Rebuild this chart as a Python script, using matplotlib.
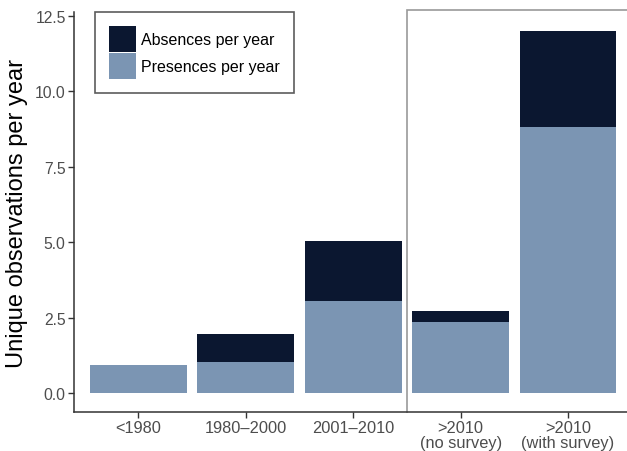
import matplotlib
matplotlib.use("Agg")
import matplotlib.pyplot as plt
from matplotlib.patches import Patch

plt.rcParams['font.family'] = ['Liberation Sans', 'DejaVu Sans']

categories = ["<1980", "1980\u20132000", "2001\u20132010", ">2010\n(no survey)", ">2010\n(with survey)"]
presences = [0.94, 1.03, 3.07, 2.35, 8.8]
totals = [0.94, 1.95, 5.05, 2.73, 12.0]
absences = [t - p for t, p in zip(totals, presences)]
yticks = [0.0, 2.5, 5.0, 7.5, 10.0, 12.5]

dark = "#0b1730"
light = "#7b95b3"

W, H = 627, 452
fig = plt.figure(figsize=(W / 100, H / 100), dpi=100)
ax = fig.add_axes([74 / W, (H - 413) / H, (W - 74) / W, (413 - 13) / H])

x = list(range(1, len(categories) + 1))
ax.bar(x, presences, width=0.9, color=light, linewidth=0)
ax.bar(x, absences, bottom=presences, width=0.9, color=dark, linewidth=0)

ax.set_xlim(0.4, 5.55)
ax.set_ylim(-0.62, 12.62)
ax.set_xticks(x)
ax.set_xticklabels(categories, fontsize=11.8, color="#4d4d4d", linespacing=0.95)
ax.set_yticks(yticks)
ax.set_yticklabels([f"{v:.1f}" for v in yticks], fontsize=11.3, color="#4d4d4d")
ax.tick_params(axis="both", length=4, width=1, color="#333333", pad=2)

for s in ["top", "right"]:
    ax.spines[s].set_visible(False)
for s in ["left", "bottom"]:
    ax.spines[s].set_color("#333333")
    ax.spines[s].set_linewidth(1.1)

# frame around the post-2010 panel
ax.plot([3.5, 3.5, 5.6], [-0.62, 12.7, 12.7], color="#999999", lw=1.2,
        clip_on=False, solid_joinstyle="miter")

ax.set_ylabel("Unique observations per year", fontsize=17, color="#000000", labelpad=5)

handles = [Patch(facecolor=dark, edgecolor="none", label="Absences per year"),
           Patch(facecolor=light, edgecolor="none", label="Presences per year")]
leg = ax.legend(handles=handles, loc="upper left", bbox_to_anchor=(21 / (W - 74), 1.0),
                fontsize=11.5, frameon=True, fancybox=False, edgecolor="#333333",
                handlelength=1.65, handleheight=2.1, handletextpad=0.35,
                labelspacing=0.05, borderpad=0.9, borderaxespad=0.0)
leg.get_frame().set_linewidth(1.2)

fig.savefig("out.png", dpi=100)
